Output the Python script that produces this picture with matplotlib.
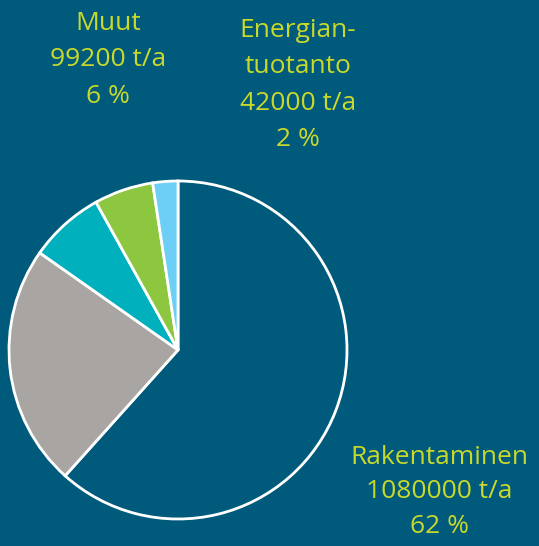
import matplotlib
matplotlib.use("Agg")
import matplotlib.pyplot as plt

# slice values, t/a (grey and teal are unlabelled, estimated from angles)
sectors = ["Rakentaminen", "Harmaa", "Turkoosi", "Muut", "Energiantuotanto"]
values = [1080000, 405000, 126000, 99200, 42000]
colors = ["#005A7C", "#A9A5A3", "#00B0BD", "#8DC63F", "#6DCFF6"]

labels = ["Muut\n99200 t/a\n6 %",
          "Energian-\ntuotanto\n42000 t/a\n2 %",
          "Rakentaminen\n1080000 t/a\n62 %"]
label_pos = [(108, 60), (298, 85), (439, 492)]  # pixel centres, from top
label_spacing = [1.6, 1.6, 1.5]

W, H = 539, 546
BG = "#005A7C"
TXT = "#C8D92B"

fig = plt.figure(figsize=(W / 100, H / 100), dpi=100, facecolor=BG)
ax = fig.add_axes([0, 0, 1, 1])
ax.set_facecolor(BG)
ax.set_xlim(0, W)
ax.set_ylim(0, H)
ax.set_aspect("equal")
ax.axis("off")

ax.pie(values, colors=colors, startangle=90, counterclock=False,
       center=(178, H - 350), radius=169,
       wedgeprops=dict(edgecolor="white", linewidth=2))
ax.set_xlim(0, W)
ax.set_ylim(0, H)

for txt, (x, y), ls in zip(labels, label_pos, label_spacing):
    ax.text(x, H - y, txt, ha="center", va="center", color=TXT,
            fontsize=19, family="Open Sans", linespacing=ls)

fig.savefig("out.png", dpi=100, facecolor=BG)
